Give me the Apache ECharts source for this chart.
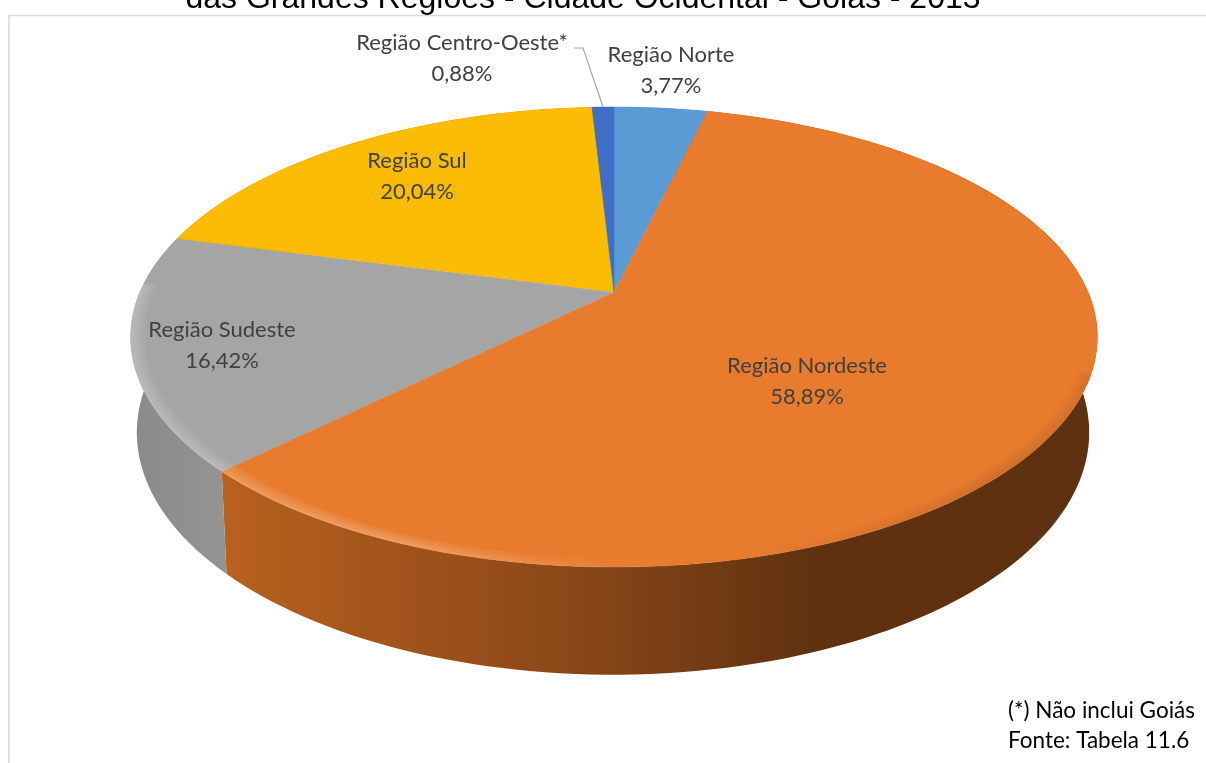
<!DOCTYPE html>
<html><head><meta charset="utf-8">
<style>html,body{margin:0;padding:0;background:#fff}#c{width:1206px;height:763px}</style>
<script src="https://cdn.jsdelivr.net/npm/echarts@6/dist/echarts.min.js"></script>
</head><body><div id="c"></div>
<script>
// Data
const categories = ['Região Norte','Região Nordeste','Região Sudeste','Região Sul','Região Centro-Oeste*'];
const shares = [3.77, 58.89, 16.42, 20.04, 0.88];
const titleText = 'das Grandes Regiões - Cidade Ocidental - Goiás - 2013';
const notes = ['(*) Não inclui Goiás', 'Fonte: Tabela 11.6'];

// Styling
const topColors = ['#5B9BD5','#E97B2F','#A5A5A5','#FCBC05','#3F6FC4'];
const wallStops = [
  [[0,'#35597b'],[1,'#35597b']],
  [[0,'#B9611F'],[0.4,'#8A4718'],[0.68,'#5F3110'],[1,'#5E3112']],
  [[0,'#8A8A8A'],[1,'#949494']],
  [[0,'#947004'],[1,'#947004']],
  [[0,'#264273'],[1,'#264273']]
];
const labelAnchors = [[671,70],[807,381],[222,345],[417,176],[462,58]];
const topPlane = {px:614, py:292, bx:474, ay:221.2, k:0.1957};
const basePlane = {px:613, py:385, bx:467, ay:233, k:0.1957};
const fontLabel = 'Lato, Carlito, sans-serif';

// Perspective projection of a point of the pie's circle (angle clockwise from the back)
function project(pl, deg, r){
  const t = deg*Math.PI/180, u = r*Math.sin(t), v = -r*Math.cos(t), d = 1-pl.k*v;
  return [pl.px+pl.bx*u/d, pl.py+pl.ay*v/d];
}
function arc(pl, a, b, r){
  const n = Math.max(2, Math.ceil(Math.abs(b-a)/1.5)), out = [];
  for(let i=0;i<=n;i++) out.push(project(pl, a+(b-a)*i/n, r));
  return out;
}
const total = shares.reduce((s,v)=>s+v,0);
function range(i){
  let s = 0; for(let j=0;j<i;j++) s += shares[j];
  return [s/total*360, (s+shares[i])/total*360];
}
const seriesData = categories.map((n,i)=>({name:n, value:[shares[i]]}));

function renderWall(params, api){
  const i = params.dataIndex, [a,b] = range(i);
  const pts = arc(topPlane,a,b,1).concat(arc(basePlane,b,a,1));
  const fill = new echarts.graphic.LinearGradient(0,0,1,0,
    wallStops[i].map(s=>({offset:s[0],color:s[1]})));
  return {type:'polygon', shape:{points:pts}, style:{fill:fill}, silent:true};
}
const bevelRadii = [0.972, 0.98, 0.988, 0.995];
function renderTop(params, api){
  const i = params.dataIndex, [a,b] = range(i);
  const pts = [[topPlane.px,topPlane.py]].concat(arc(topPlane,a,b,1));
  const children = [{type:'polygon', shape:{points:pts},
    style:{fill:topColors[i], stroke:topColors[i], lineWidth:0.5}}];
  const lo = Math.max(a,110), hi = Math.min(b,272);
  if(hi>lo){
    bevelRadii.forEach(r=>{
      const band = arc(topPlane,lo,hi,1).concat(arc(topPlane,hi,lo,r));
      children.push({type:'polygon', shape:{points:band}, style:{
        fill:new echarts.graphic.LinearGradient(128,0,1098,0,[
          {offset:0,color:'rgba(255,255,255,0.06)'},
          {offset:0.3,color:'rgba(255,255,255,0.07)'},
          {offset:0.46,color:'rgba(255,255,255,0.02)'},
          {offset:0.62,color:'rgba(0,0,0,0.0)'},
          {offset:0.9,color:'rgba(0,0,0,0.03)'},
          {offset:1,color:'rgba(0,0,0,0.02)'}],true)}});
    });
  }
  return {type:'group', children};
}
function renderLabel(params, api){
  const i = params.dataIndex, p = labelAnchors[i];
  const txt = categories[i]+'\n'+api.value(0).toFixed(2).replace('.',',')+'%';
  return {type:'text', style:{text:txt, x:p[0], y:p[1], align:'center', verticalAlign:'middle',
    fontFamily:fontLabel, fontSize:22, lineHeight:31, fill:'#404040'}};
}
const custom = (fn,z)=>({type:'custom', coordinateSystem:'none', renderItem:fn, data:seriesData, z, animation:false, silent:true});

const leaderEnd = project(topPlane, range(4)[0]+(range(4)[1]-range(4)[0])*0.5, 1);
const chart = echarts.init(document.getElementById('c'), null, {renderer:'canvas'});
chart.setOption({
  animation:false,
  series:[custom(renderWall,2), custom(renderTop,3), custom(renderLabel,5)],
  graphic:{elements:[
    {type:'polyline', z:1, shape:{points:[[9,763],[9,15.5],[1206,15.5]]}, style:{stroke:'#D9D9D9', lineWidth:1.6, fill:null}},
    {type:'text', z:6, style:{text:titleText, x:583, y:-1, align:'center', verticalAlign:'middle',
      fontFamily:'"Liberation Sans", Arial, sans-serif', fontSize:32, fill:'#000'}},
    {type:'polyline', z:4, shape:{points:[[574,48],[583,48],leaderEnd]}, style:{stroke:'#A6A6A6', lineWidth:1.2, fill:null}},
    {type:'text', z:6, style:{text:notes[0], x:1008, y:711, align:'left', verticalAlign:'middle',
      fontFamily:fontLabel, fontSize:22.5, fill:'#000'}},
    {type:'text', z:6, style:{text:notes[1], x:1008, y:741, align:'left', verticalAlign:'middle',
      fontFamily:fontLabel, fontSize:22.5, fill:'#000'}}
  ]}
});
</script></body></html>
